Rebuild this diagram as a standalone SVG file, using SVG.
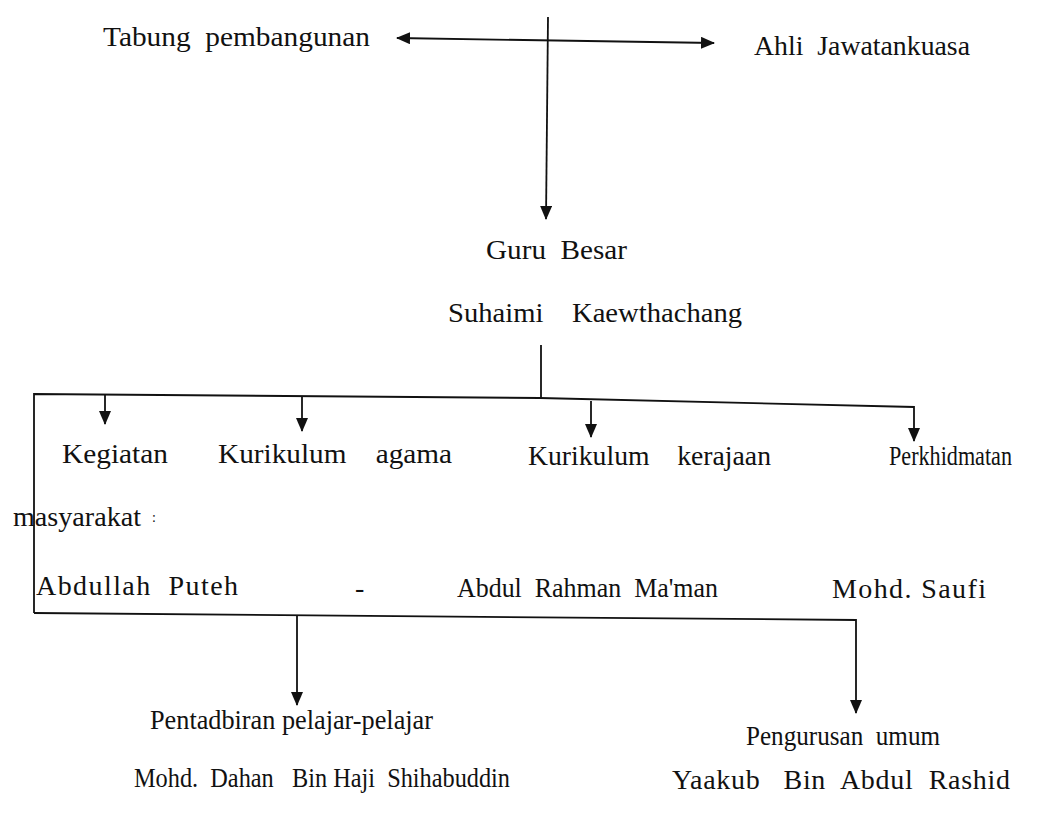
<svg xmlns="http://www.w3.org/2000/svg" width="1050" height="813" viewBox="0 0 1050 813" xml:space="preserve">
<defs>
<style>
text{font-family:"Liberation Serif","Times New Roman",serif;font-size:28px;fill:#111;white-space:pre}
.ln{fill:none;stroke:#111;stroke-width:1.8}
</style>
<marker id="ah" viewBox="0 0 14 12" refX="13" refY="6" markerWidth="14" markerHeight="12" markerUnits="userSpaceOnUse" orient="auto-start-reverse">
<path d="M0,0 L14,6 L0,12 z" fill="#111"/>
</marker>
</defs>
<rect width="1050" height="813" fill="#fff"/>
<g id="connectors">
<path class="ln" d="M397,38 L714,43" marker-start="url(#ah)" marker-end="url(#ah)"/>
<path class="ln" d="M548,17 L546,219" marker-end="url(#ah)"/>
<path class="ln" d="M541,345 L541,398"/>
<path class="ln" d="M34,613 L34,394 L540,398 L914,407 L914,441" marker-end="url(#ah)"/>
<path class="ln" d="M105,395 L105,424" marker-end="url(#ah)"/>
<path class="ln" d="M302,397 L302,431" marker-end="url(#ah)"/>
<path class="ln" d="M591,401 L591,437" marker-end="url(#ah)"/>
<path class="ln" d="M34,613 L856,620 L856,713" marker-end="url(#ah)"/>
<path class="ln" d="M297,615 L297,705" marker-end="url(#ah)"/>
</g>
<g id="tabung"><text x="103" y="46" textLength="267" lengthAdjust="spacingAndGlyphs">Tabung  pembangunan</text></g>
<g id="ahli"><text x="754" y="55" textLength="216" lengthAdjust="spacingAndGlyphs">Ahli  Jawatankuasa</text></g>
<g id="guru"><text x="486" y="259" textLength="141" lengthAdjust="spacingAndGlyphs">Guru  Besar</text>
<text x="448" y="322" textLength="294" lengthAdjust="spacingAndGlyphs">Suhaimi    Kaewthachang</text></g>
<g id="kegiatan"><text x="62" y="463" textLength="106" lengthAdjust="spacingAndGlyphs">Kegiatan</text>
<text x="13" y="526" textLength="128" lengthAdjust="spacingAndGlyphs">masyarakat</text>
<text x="152" y="522" style="font-size:14px">:</text>
<text x="36" y="595" textLength="202" lengthAdjust="spacing">Abdullah  Puteh</text></g>
<g id="agama"><text x="218" y="463" textLength="234" lengthAdjust="spacingAndGlyphs">Kurikulum    agama</text>
<text x="355" y="597">-</text></g>
<g id="kerajaan"><text x="528" y="465" textLength="243" lengthAdjust="spacingAndGlyphs">Kurikulum    kerajaan</text>
<text x="457" y="597" textLength="261" lengthAdjust="spacingAndGlyphs">Abdul  Rahman  Ma'man</text></g>
<g id="perkhidmatan"><text x="889" y="465" textLength="123" lengthAdjust="spacingAndGlyphs">Perkhidmatan</text>
<text x="832" y="598" textLength="154" lengthAdjust="spacing">Mohd. Saufi</text></g>
<g id="pentadbiran"><text x="150" y="729" textLength="283" lengthAdjust="spacingAndGlyphs">Pentadbiran pelajar-pelajar</text>
<text x="134" y="787" textLength="376" lengthAdjust="spacingAndGlyphs">Mohd.  Dahan   Bin Haji  Shihabuddin</text></g>
<g id="pengurusan"><text x="746" y="745" textLength="194" lengthAdjust="spacingAndGlyphs">Pengurusan  umum</text>
<text x="672" y="789" textLength="338" lengthAdjust="spacing">Yaakub   Bin  Abdul  Rashid</text></g>
</svg>
